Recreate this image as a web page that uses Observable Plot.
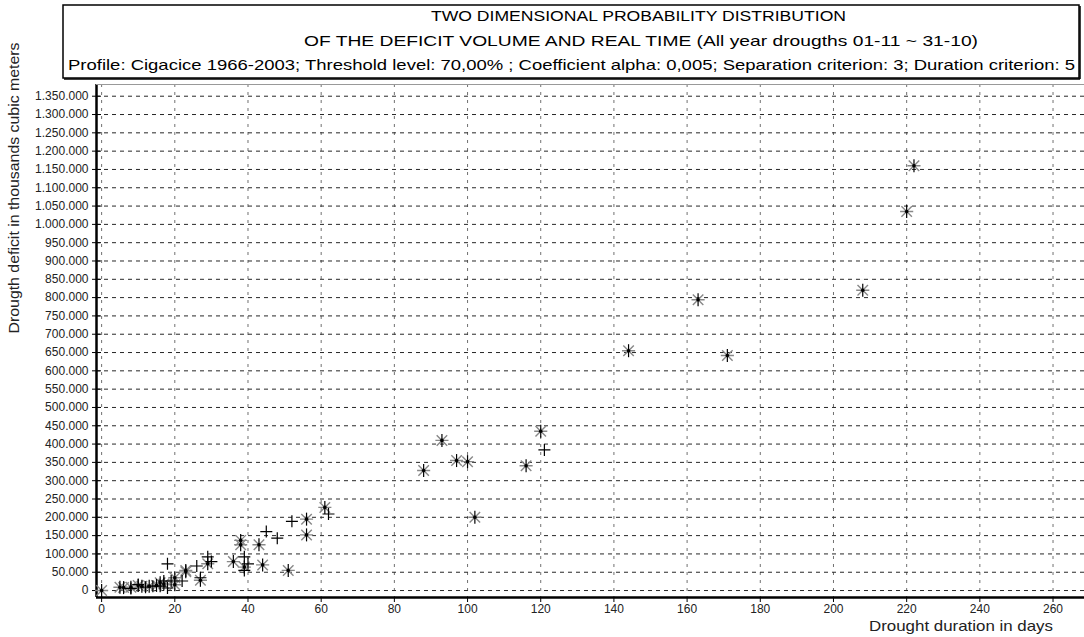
<!DOCTYPE html>
<html><head><meta charset="utf-8">
<script src="https://cdn.jsdelivr.net/npm/d3@7"></script>
<script src="https://cdn.jsdelivr.net/npm/@observablehq/plot@0.6"></script>
<style>
body{margin:0;background:#fff;font-family:"Liberation Sans",Arial,sans-serif;}
#wrap{position:relative;width:1084px;height:637px;overflow:hidden;background:#fff;}
#wrap svg{position:absolute;left:0;top:0;}
</style>
</head><body><div id="wrap"></div>
<script>
// ---- data ----
const titleLines = [
  "TWO DIMENSIONAL PROBABILITY DISTRIBUTION",
  "OF THE DEFICIT VOLUME AND REAL TIME (All year drougths 01-11 ~ 31-10)",
  "Profile: Cigacice 1966-2003; Threshold level: 70,00% ; Coefficient alpha: 0,005; Separation criterion: 3; Duration criterion: 5"
];
const yLabel = "Drougth deficit in thousands cubic meters";
const xLabel = "Drought duration in days";

const xTicks = [0,20,40,60,80,100,120,140,160,180,200,220,240,260];
const yTicks = d3.range(0, 1350001, 50000);
const xDomain = [-1.4, 268.6];
const yDomain = [-19000, 1382000];

// asterisk series (duration days, deficit)
const starDays = [0,5,6,8,10,11,13,15,16,17,20,20,23,23,27,29,36,38,38,39,43,44,51,56,56,61,88,93,97,100,102,116,120,144,163,171,208,220,222];
const starVals = [0,9000,8000,9000,14000,12000,12000,14000,21000,18000,35000,16000,55000,51000,28000,73000,79000,137000,125000,64000,125000,70000,55000,195000,152000,227000,328000,410000,355000,352000,200000,341000,435000,655000,794000,642000,820000,1035000,1160000];
// plus series
const plusDays = [8,10,12,14,16,17,18,18,19,22,26,27,29,30,39,39,40,45,48,52,62,121];
const plusVals = [5500,16500,9000,12000,12000,26000,7000,73000,26000,26000,67000,35000,92000,79000,92000,55000,73000,161000,143000,189000,209000,384000];

const stars = starDays.map((d,i)=>({x:d,y:starVals[i]}));
const pluses = plusDays.map((d,i)=>({x:d,y:plusVals[i]}));

const fmt = d3.formatLocale({thousands:".", grouping:[3], decimal:","}).format(",");

const crossSym = {draw(ctx, size){const r=Math.sqrt(size/Math.PI);ctx.moveTo(-r,0);ctx.lineTo(r,0);ctx.moveTo(0,-r);ctx.lineTo(0,r);}};
const timesSym = {draw(ctx, size){const r=Math.sqrt(size/Math.PI)*0.75;ctx.moveTo(-r,-r);ctx.lineTo(r,r);ctx.moveTo(-r,r);ctx.lineTo(r,-r);ctx.moveTo(-r*1.25,0);ctx.lineTo(r*1.25,0);}};
const vertSym = {draw(ctx, size){const r=Math.sqrt(size/Math.PI);ctx.moveTo(0,-r);ctx.lineTo(0,r);}};

const chart = Plot.plot({
  width: 1084, height: 637,
  marginTop: 84, marginBottom: 40, marginLeft: 96, marginRight: 0,
  style: {fontFamily: "Liberation Sans, Arial, sans-serif", fontSize: "12px", color: "#111", background: "#fff"},
  x: {domain: xDomain, ticks: xTicks, label: null},
  y: {domain: yDomain, ticks: yTicks, label: null},
  marks: [
    Plot.gridY(yTicks, {stroke: "#000", strokeOpacity: 0.85, strokeDasharray: "4,4", strokeWidth: 1}),
    Plot.gridX(xTicks, {stroke: "#333", strokeOpacity: 0.7, strokeDasharray: "3,5", strokeWidth: 1}),
    Plot.axisY(yTicks, {tickFormat: fmt, tickSize: 0, tickPadding: 8, fill: "#222", fontSize: 12}),
    Plot.axisY(yTicks, {tickFormat: null, text: null, tickSize: 9, dx: 5, stroke: "#000"}),
    Plot.axisX(xTicks, {tickSize: 5, tickPadding: 2, fill: "#222", fontSize: 12, stroke: "#000"}),
    Plot.ruleX([xDomain[0]], {stroke: "#000", strokeWidth: 2.5}),
    Plot.ruleY([yDomain[0]], {stroke: "#000", strokeWidth: 2.5}),
    Plot.ruleY([yDomain[1]], {stroke: "#999", strokeWidth: 1}),
    Plot.dot(stars, {x: "x", y: "y", symbol: timesSym, r: 7, stroke: "#888", strokeWidth: 1.4, fill: "none"}),
    Plot.dot(stars, {x: "x", y: "y", symbol: vertSym, r: 6.5, stroke: "#000", strokeWidth: 1.2, fill: "none"}),
    Plot.dot(stars, {x: "x", y: "y", r: 1.8, fill: "#000", stroke: "none"}),
    Plot.dot(pluses, {x: "x", y: "y", symbol: crossSym, r: 6, stroke: "#000", strokeWidth: 1.2, fill: "none"})
  ]
});
const wrap = document.getElementById("wrap");
wrap.appendChild(chart);

// overlay: title box and axis labels
const ov = d3.select(wrap).append("svg").attr("width",1084).attr("height",637)
  .style("pointer-events","none").style("font-family","Liberation Sans, Arial, sans-serif");
ov.append("rect").attr("x",63).attr("y",5).attr("width",1016).attr("height",73)
  .attr("fill","#fff").attr("stroke","#000").attr("stroke-width",1.5);
ov.append("line").attr("x1",64).attr("x2",1080).attr("y1",79).attr("y2",79).attr("stroke","#000").attr("stroke-width",1.5);
ov.append("line").attr("x1",1080).attr("x2",1080).attr("y1",6).attr("y2",79).attr("stroke","#000").attr("stroke-width",1.5);
const tl = [{x0:431,x1:846,y:17},{x0:304,x1:978,y:42},{x0:68,x1:1075,y:66}];
titleLines.forEach((t,i)=>{
  ov.append("text").attr("x",tl[i].x0).attr("y",tl[i].y).attr("dominant-baseline","middle")
    .attr("font-size",15).attr("fill","#000")
    .attr("textLength",tl[i].x1-tl[i].x0).attr("lengthAdjust","spacingAndGlyphs").text(t);
});
ov.append("text").attr("transform","translate(15,188) rotate(-90)").attr("text-anchor","middle")
  .attr("dominant-baseline","middle").attr("font-size",14).attr("fill","#222")
  .attr("textLength",291).attr("lengthAdjust","spacingAndGlyphs").text(yLabel);
ov.append("text").attr("x",869).attr("y",627).attr("text-anchor","start")
  .attr("dominant-baseline","middle").attr("font-size",15).attr("fill","#222")
  .attr("textLength",184).attr("lengthAdjust","spacingAndGlyphs").text(xLabel);
</script>
</body></html>
